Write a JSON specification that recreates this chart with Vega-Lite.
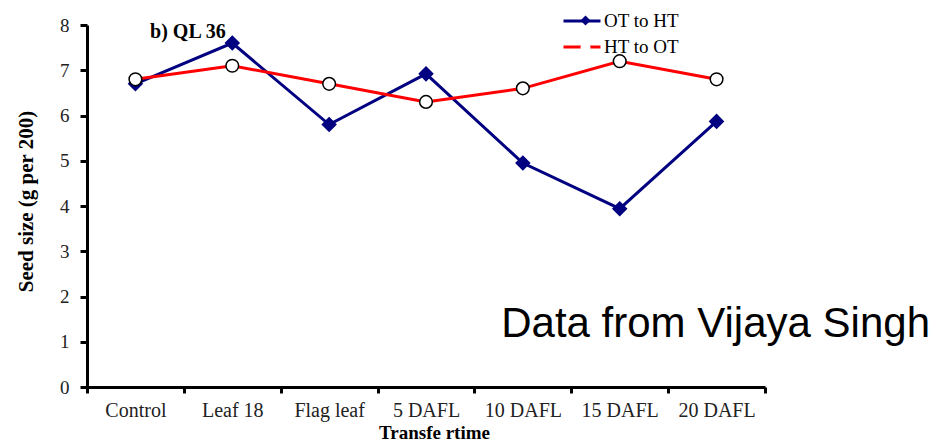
{
  "$schema": "https://vega.github.io/schema/vega-lite/v6.json",
  "width": 678,
  "height": 362,
  "autosize": "none",
  "padding": {"left": 87, "top": 25, "right": 172, "bottom": 54},
  "background": "white",
  "data": {
    "values": [
      {"time": "Control", "series": "OT to HT", "value": 6.7},
      {"time": "Leaf 18", "series": "OT to HT", "value": 7.6},
      {"time": "Flag leaf", "series": "OT to HT", "value": 5.8},
      {"time": "5 DAFL", "series": "OT to HT", "value": 6.92},
      {"time": "10 DAFL", "series": "OT to HT", "value": 4.95},
      {"time": "15 DAFL", "series": "OT to HT", "value": 3.94},
      {"time": "20 DAFL", "series": "OT to HT", "value": 5.87},
      {"time": "Control", "series": "HT to OT", "value": 6.8},
      {"time": "Leaf 18", "series": "HT to OT", "value": 7.1},
      {"time": "Flag leaf", "series": "HT to OT", "value": 6.7},
      {"time": "5 DAFL", "series": "HT to OT", "value": 6.3},
      {"time": "10 DAFL", "series": "HT to OT", "value": 6.6},
      {"time": "15 DAFL", "series": "HT to OT", "value": 7.2},
      {"time": "20 DAFL", "series": "HT to OT", "value": 6.8}
    ]
  },
  "encoding": {
    "x": {
      "field": "time",
      "type": "nominal",
      "sort": ["Control", "Leaf 18", "Flag leaf", "5 DAFL", "10 DAFL", "15 DAFL", "20 DAFL"],
      "scale": {"type": "band", "paddingInner": 0, "paddingOuter": 0},
      "bandPosition": 0.5,
      "axis": {
        "title": "Transfe rtime",
        "labelAngle": 0,
        "tickBand": "extent",
        "tickSize": 6,
        "labelPadding": 7,
        "labelFontSize": 20,
        "titleFontSize": 19,
        "titlePadding": 3,
        "titleX": 347
      }
    },
    "y": {
      "field": "value",
      "type": "quantitative",
      "scale": {"domain": [0, 8], "nice": false, "zero": true},
      "axis": {
        "title": "Seed size (g per 200)",
        "values": [0, 1, 2, 3, 4, 5, 6, 7, 8],
        "tickSize": 7,
        "labelPadding": 11,
        "titleFontSize": 21,
        "titlePadding": 23,
        "titleY": 176
      }
    }
  },
  "layer": [
    {
      "mark": {"type": "line", "strokeWidth": 3},
      "encoding": {
        "stroke": {
          "field": "series",
          "type": "nominal",
          "sort": ["OT to HT", "HT to OT"],
          "scale": {"range": ["#000080", "#ff0000"]},
          "legend": {
            "orient": "none",
            "legendX": 484,
            "legendY": -15,
            "title": null,
            "symbolType": "M-2,0H2",
            "symbolSize": 342,
            "symbolStrokeWidth": 3,
            "labelFont": "Liberation Serif",
            "labelFontSize": 19,
            "labelColor": "black",
            "labelOffset": 11,
            "rowPadding": 5
          }
        }
      }
    },
    {
      "mark": {"type": "point", "filled": true, "strokeWidth": 1.5, "opacity": 1},
      "encoding": {
        "shape": {
          "field": "series",
          "type": "nominal",
          "scale": {"domain": ["OT to HT", "HT to OT"], "range": ["diamond", "circle"]},
          "legend": {
            "orient": "none",
            "legendX": 489,
            "legendY": -14,
            "title": null,
            "symbolSize": 100,
            "labelExpr": "''",
            "labelFontSize": 19,
            "rowPadding": 7,
            "symbolStrokeWidth": 1.2,
            "symbolStrokeColor": "#000000",
            "symbolOpacity": 1
          }
        },
        "fill": {
          "field": "series",
          "type": "nominal",
          "scale": {"domain": ["OT to HT", "HT to OT"], "range": ["#000080", "#ffffff"]},
          "legend": {
            "orient": "none",
            "legendX": 489,
            "legendY": -14,
            "title": null,
            "symbolSize": 100,
            "labelExpr": "''",
            "labelFontSize": 19,
            "rowPadding": 7,
            "symbolStrokeWidth": 1.2,
            "symbolStrokeColor": "#000000",
            "symbolOpacity": 1
          }
        },
        "size": {
          "condition": {"test": "datum.series === 'HT to OT'", "value": 160},
          "value": 180
        },
        "stroke": {
          "condition": {"test": "datum.series === 'HT to OT'", "value": "#000000"},
          "value": "#000080"
        }
      }
    },
    {
      "transform": [{"filter": "datum.time === 'Control' && datum.series === 'OT to HT'"}],
      "mark": {"type": "text", "font": "Liberation Serif", "fontSize": 20, "fontWeight": "bold", "align": "center", "baseline": "alphabetic", "dx": 4, "color": "black"},
      "encoding": {
        "x": {"datum": "Leaf 18", "bandPosition": 0},
        "y": {"datum": 7.72},
        "text": {"value": "b) QL 36"}
      }
    },
    {
      "transform": [{"filter": "datum.time === 'Control' && datum.series === 'OT to HT'"}],
      "mark": {"type": "text", "font": "Liberation Sans", "fontSize": 42, "align": "right", "baseline": "alphabetic", "dx": 165, "color": "black"},
      "encoding": {
        "x": {"datum": "20 DAFL", "bandPosition": 1},
        "y": {"datum": 1.1},
        "text": {"value": "Data from Vijaya Singh"}
      }
    }
  ],
  "config": {
    "view": {"stroke": null},
    "font": "Liberation Serif",
    "axis": {
      "grid": false,
      "domainColor": "black",
      "domainWidth": 3,
      "tickColor": "black",
      "tickWidth": 3,
      "labelFont": "Liberation Serif",
      "labelFontSize": 19,
      "labelColor": "#222222",
      "titleFont": "Liberation Serif",
      "titleFontSize": 17,
      "titleFontWeight": "bold",
      "titleColor": "black"
    },
    "legend": {"labelFont": "Liberation Serif", "labelFontSize": 19, "labelColor": "black"}
  }
}
